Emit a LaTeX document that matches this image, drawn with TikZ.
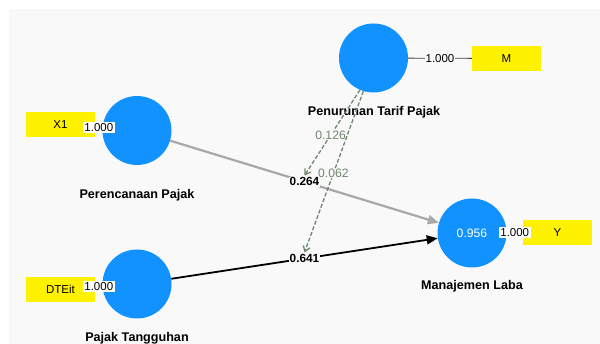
\documentclass[tikz,border=0pt]{standalone}
\usepackage{fontspec}
\setmainfont{Liberation Sans}
\usetikzlibrary{arrows.meta}
\definecolor{lvblue}{RGB}{18,146,255}
\definecolor{panel}{RGB}{249,249,249}
\definecolor{pathgray}{RGB}{168,168,168}
\definecolor{modgreen}{RGB}{112,134,112}
\definecolor{linkgray}{RGB}{64,64,64}

\begin{document}
\begin{tikzpicture}
        [x=1pt, y=-1pt, every node/.style={font=\fontsize{11.5}{13}\selectfont, inner sep=1pt},
         latent/.style={shape=circle, fill=lvblue, minimum size=69pt, inner sep=0},
         indicator/.style={fill=yellow, minimum width=69pt, minimum height=25pt, inner sep=0},
         construct/.style={font=\fontsize{12.6}{14}\selectfont\bfseries},
         loading/.style={fill=white, inner sep=1.5pt},
         coef/.style={fill=panel, font=\fontsize{11.8}{13}\selectfont\bfseries, inner sep=1pt},
         modcoef/.style={fill=panel, text=modgreen, font=\fontsize{12.2}{14}\selectfont, inner sep=0.5pt}]

        \useasboundingbox (0,0) rectangle (600,344);
        \fill[white] (0,0) rectangle (600,344);
        \fill[panel] (9,9) rectangle (600,344);

        \node[latent] (pp) at (137, 130.5) {};
        \node[latent] (pt) at (137, 284) {};
        \node[latent] (ptp) at (373.5, 58) {};
        \node[latent, text=white, font=\fontsize{12.2}{14}\selectfont] (ml) at (472, 233) {0.956};

        \node[indicator] (x1) at (60.5, 124.5) {X1};
        \node[indicator] (dte) at (60.5, 289.5) {DTEit};
        \node[indicator] (m) at (506.5, 58.5) {M};
        \node[indicator] (y) at (557.5, 232.5) {Y};

        \node[construct] (ppname) at (137, 195) {Perencanaan Pajak};
        \node[construct] (ptname) at (137, 338) {Pajak Tangguhan};
        \node[construct] (ptpname) at (374, 112) {Penurunan Tarif Pajak};
        \node[construct] (mlname) at (472, 286) {Manajemen Laba};

        \draw (x1) -- node[loading] {1.000} (pp);
        \draw (dte) -- node[loading] {1.000} (pt);
        \draw (ml) -- node[loading] {1.000} (y);
        \draw[linkgray, line width=0.8pt] (ptp) -- node[fill=panel, text=black] {1.000} (m);

        \draw[pathgray, line width=2.2pt, -{Triangle[length=11pt,width=9pt]}] (pp) -- node[coef, text=black] (c264) {0.264} (ml);
        \draw[black, line width=1.8pt, -{Triangle[length=11pt,width=9pt]}] (pt) -- node[coef] (c641) {0.641} (ml);

        \draw[modgreen, line width=1.3pt, dash pattern=on 4pt off 2pt, -{Straight Barb[length=5pt,width=7pt]}] (ptp.-113) -- node[modcoef, pos=0.53] {0.126} (c264.north);
        \draw[modgreen, line width=1.3pt, dash pattern=on 4pt off 2pt, -{Straight Barb[length=5pt,width=7pt]}] (ptp.-107) -- node[modcoef, pos=0.51] {0.062} (c641.north);

      \end{tikzpicture}
\end{document}
